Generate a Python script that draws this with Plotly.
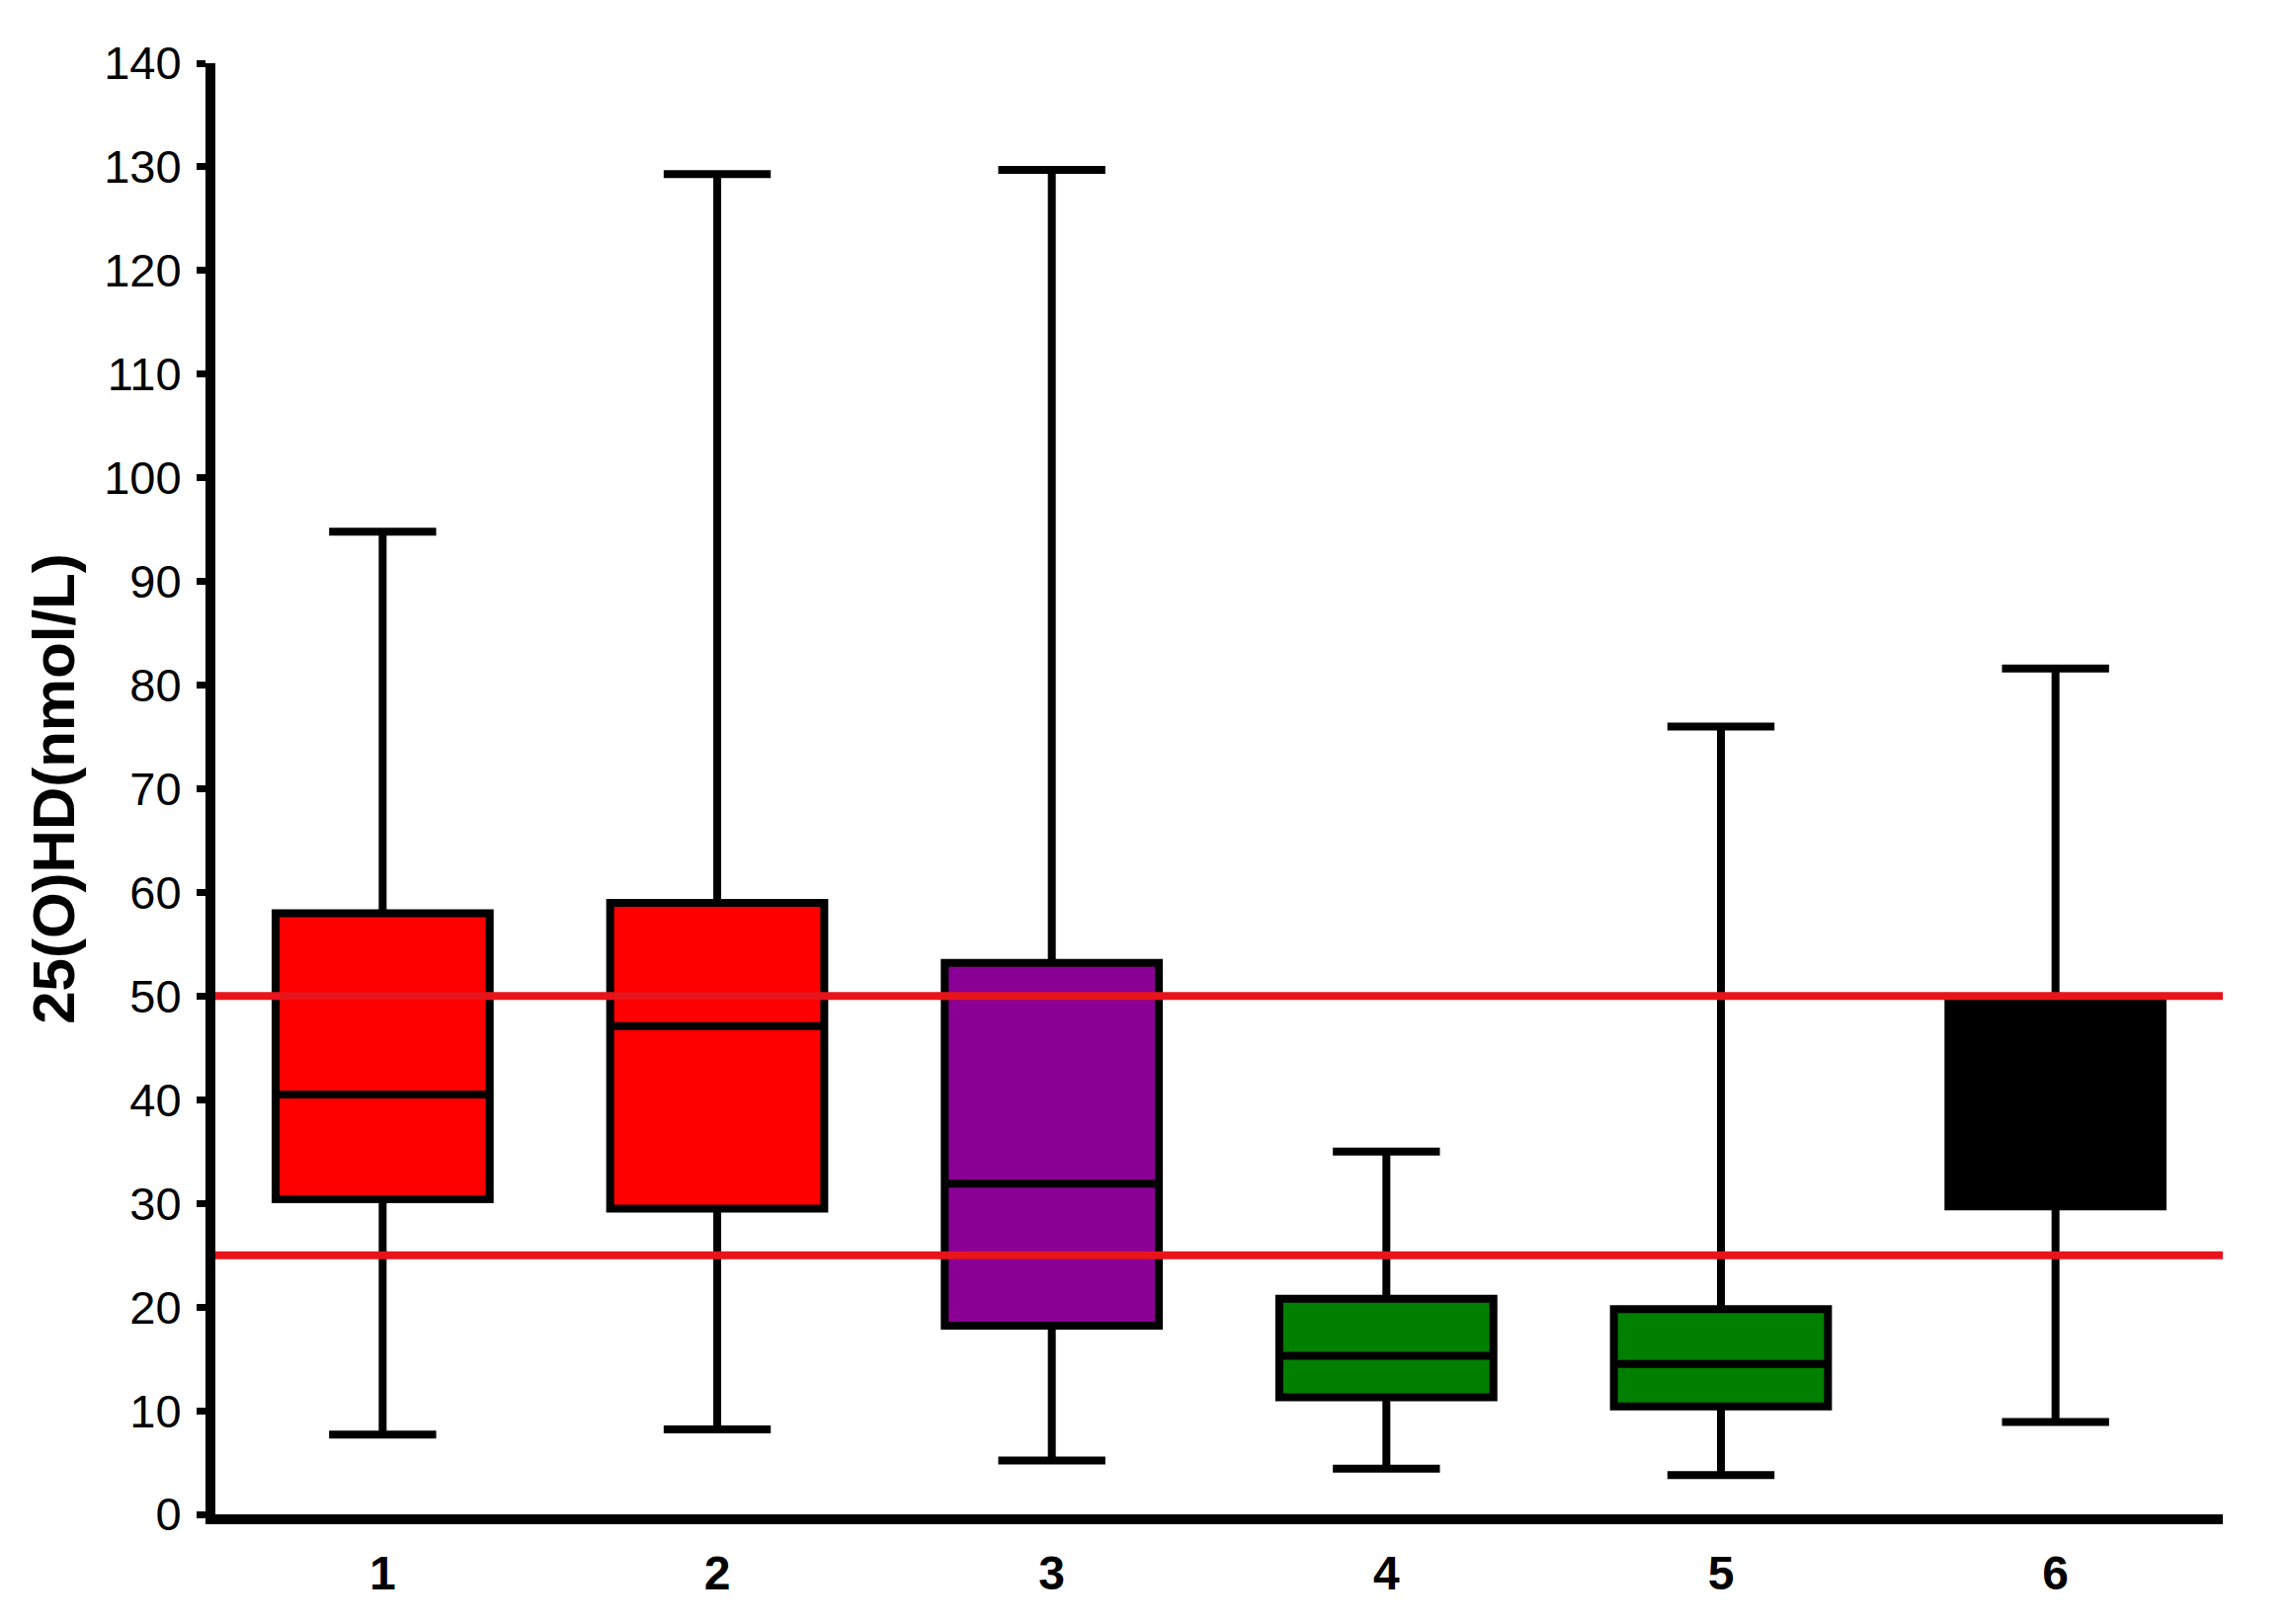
import plotly.graph_objects as go

# Box summary values (nmol/L)
groups = [1, 2, 3, 4, 5, 6]
upper_whisker = [94.8, 129.3, 129.7, 35.0, 76.0, 81.6]
q3_values = [58.0, 59.0, 53.2, 20.8, 19.8, 49.7]
medians = [40.5, 47.1, 31.9, 15.3, 14.5, 40.0]
q1_values = [30.4, 29.5, 18.2, 11.3, 10.4, 29.7]
lower_whisker = [7.7, 8.2, 5.2, 4.4, 3.8, 8.9]
box_colors = ['#ff0000', '#ff0000', '#8b0094', '#007f00', '#007f00', '#000000']

# reference thresholds
thresholds = [50, 25]

fig = go.Figure()

for i, g in enumerate(groups):
    fig.add_trace(go.Box(
        x=[g],
        q1=[q1_values[i]],
        median=[medians[i]],
        q3=[q3_values[i]],
        lowerfence=[lower_whisker[i]],
        upperfence=[upper_whisker[i]],
        width=0.64,
        whiskerwidth=0.5,
        fillcolor=box_colors[i],
        line=dict(color='black', width=8),
        boxpoints=False,
        showlegend=False,
        hoverinfo='skip'
    ))

for t in thresholds:
    fig.add_hline(y=t, line=dict(color='#e8141c', width=8), layer='above')

fig.update_layout(
    width=2316,
    height=1644,
    margin=dict(l=210, r=74, t=56, b=119),
    plot_bgcolor='white',
    paper_bgcolor='white',
    font=dict(family='Liberation Sans, Arial, sans-serif', color='black'),
    xaxis=dict(
        range=[0.5, 6.5],
        tickvals=groups,
        ticktext=[str(g) for g in groups],
        tickfont=dict(size=48, weight='bold'),
        showline=True,
        linecolor='black',
        linewidth=10,
        ticks='',
        ticklabelstandoff=8,
        showgrid=False,
        zeroline=False
    ),
    yaxis=dict(
        range=[0, 140],
        dtick=10,
        tickfont=dict(size=47),
        showline=True,
        linecolor='black',
        linewidth=10,
        ticks='outside',
        ticklen=9,
        tickwidth=7,
        tickcolor='black',
        ticklabelstandoff=6,
        showgrid=False,
        zeroline=False,
        title=dict(text='25(O)HD(nmol/L)', font=dict(size=60, weight='bold'), standoff=14)
    )
)

fig.write_html("out.html")
